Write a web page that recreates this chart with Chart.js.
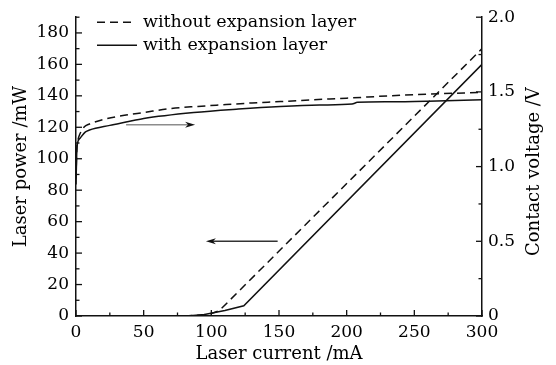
<!DOCTYPE html>
<html>
<head>
<meta charset="utf-8">
<script src="https://cdn.jsdelivr.net/npm/chart.js@4.4.1/dist/chart.umd.min.js"></script>
<style>
  html, body { margin: 0; padding: 0; background: #fff; }
</style>
</head>
<body>
<canvas id="chart" width="556" height="365"></canvas>
<script>
// laser power vs current (left axis)
const powerCurrentWithout = [80, 92, 100, 106, 300];
const powerWithout = [0, 0.5, 1.5, 3.5, 170];
const powerCurrentWith = [82, 95, 110, 124, 300];
const powerWith = [0, 1, 3.5, 6.5, 160];

// contact voltage vs current (right axis)
const voltCurrentWithout = [0, 0.6, 1.5, 2.5, 6, 10, 20, 37, 50, 69, 90, 111, 130, 151, 175, 200, 232, 260, 300];
const voltWithout = [0.92, 1.12, 1.18, 1.21, 1.265, 1.285, 1.315, 1.345, 1.362, 1.388, 1.403, 1.415, 1.426, 1.435, 1.447, 1.458, 1.474, 1.485, 1.497];
const voltCurrentWith = [0, 0.5, 1, 3, 7, 10, 25, 37, 50, 87, 120, 151, 180, 204, 208, 232, 260, 300];
const voltWith = [0.88, 1.08, 1.15, 1.19, 1.232, 1.245, 1.276, 1.298, 1.322, 1.362, 1.385, 1.402, 1.412, 1.419, 1.43, 1.434, 1.438, 1.447];

const seriesLabels = ["without expansion layer", "with expansion layer"];

// arrows pointing to the matching axis: [x0, x1], y
const arrowVoltX = [37, 88];
const arrowVoltY = 1.28;
const arrowPowerX = [149, 96];
const arrowPowerY = 47.5;

// axis ranges
const currentMax = 300, powerMax = 190, voltMax = 2.0;

function pts(xs, ys) {
  return xs.map(function (x, i) { return { x: x, y: ys[i] }; });
}

Chart.defaults.font.family = "'DejaVu Serif', serif";
Chart.defaults.font.size = 17;
Chart.defaults.color = "#000";

const ink = "#111";

// inward tick marks, arrows, legend and right title
const extras = {
  id: "extras",
  afterDraw(chart) {
    const ctx = chart.ctx;
    const area = chart.chartArea;
    ctx.save();
    ctx.strokeStyle = ink;
    ctx.lineWidth = 1.3;
    ["x", "yP", "yV"].forEach(function (id) {
      const s = chart.scales[id];
      s.ticks.forEach(function (t) {
        const p = s.getPixelForValue(t.value);
        const major = t.label !== "";
        const len = major ? 6 : 3.5;
        ctx.beginPath();
        if (id === "x") {
          ctx.moveTo(p, area.bottom);
          ctx.lineTo(p, area.bottom - len);
        } else if (id === "yP") {
          ctx.moveTo(area.left, p);
          ctx.lineTo(area.left + len, p);
        } else {
          ctx.moveTo(area.right, p);
          ctx.lineTo(area.right - len, p);
        }
        ctx.stroke();
      });
    });

    // arrows
    function arrow(x0, x1, y, yScale, lineColor) {
      const sx = chart.scales.x;
      const a = sx.getPixelForValue(x0), b = sx.getPixelForValue(x1);
      const py = chart.scales[yScale].getPixelForValue(y);
      const dir = b > a ? 1 : -1;
      ctx.strokeStyle = lineColor;
      ctx.lineWidth = 1.6;
      ctx.beginPath();
      ctx.moveTo(a, py);
      ctx.lineTo(b - dir * 6, py);
      ctx.stroke();
      ctx.fillStyle = ink;
      ctx.beginPath();
      ctx.moveTo(b, py);
      ctx.lineTo(b - dir * 10, py - 3);
      ctx.lineTo(b - dir * 7, py);
      ctx.lineTo(b - dir * 10, py + 3);
      ctx.closePath();
      ctx.fill();
    }
    arrow(arrowVoltX[0], arrowVoltX[1], arrowVoltY, "yV", "#8c8c8c");
    arrow(arrowPowerX[0], arrowPowerX[1], arrowPowerY, "yP", "#333");

    // legend
    ctx.strokeStyle = ink;
    ctx.lineWidth = 1.5;
    ctx.font = "17.5px 'DejaVu Serif', serif";
    ctx.fillStyle = "#000";
    ctx.textBaseline = "middle";
    const lx = area.left + 21;
    [0, 1].forEach(function (i) {
      const y = area.top + 5 + i * 23;
      ctx.setLineDash(i === 0 ? [8, 5] : []);
      ctx.beginPath();
      ctx.moveTo(lx, y);
      ctx.lineTo(lx + (i === 0 ? 36 : 40), y);
      ctx.stroke();
      ctx.setLineDash([]);
      ctx.fillText(seriesLabels[i], lx + 46, y);
    });

    // right axis title, reading bottom to top
    ctx.translate(chart.scales.yV.right - 22, (area.top + area.bottom) / 2 + 5);
    ctx.rotate(-Math.PI / 2);
    ctx.textAlign = "center";
    ctx.font = "18px 'DejaVu Serif', serif";
    ctx.fillText("Contact voltage /V", 0, 0);
    ctx.restore();
  }
};

const lineStyle = { borderColor: ink, borderWidth: 1.5, pointRadius: 0, fill: false, tension: 0 };

new Chart(document.getElementById("chart"), {
  type: "line",
  data: {
    datasets: [
      Object.assign({ label: seriesLabels[0], data: pts(powerCurrentWithout, powerWithout), yAxisID: "yP", borderDash: [8, 5] }, lineStyle),
      Object.assign({ label: seriesLabels[1], data: pts(powerCurrentWith, powerWith), yAxisID: "yP" }, lineStyle),
      Object.assign({ label: seriesLabels[0], data: pts(voltCurrentWithout, voltWithout), yAxisID: "yV", borderDash: [8, 5], cubicInterpolationMode: "monotone" }, lineStyle),
      Object.assign({ label: seriesLabels[1], data: pts(voltCurrentWith, voltWith), yAxisID: "yV", cubicInterpolationMode: "monotone" }, lineStyle)
    ]
  },
  options: {
    responsive: false,
    animation: false,
    layout: { padding: { top: 14, left: 0, right: 0, bottom: 0 } },
    plugins: { legend: { display: false }, tooltip: { enabled: false } },
    scales: {
      x: {
        type: "linear",
        min: 0,
        max: currentMax,
        afterFit: function (s) { s.height = 49; },
        grid: { display: false, drawTicks: false },
        border: { color: ink, width: 1.5 },
        ticks: {
          stepSize: 25,
          autoSkip: false,
          maxRotation: 0,
          padding: 6,
          callback: function (v) { return v % 50 === 0 ? String(v) : ""; }
        },
        title: { display: true, text: "Laser current /mA", font: { size: 18 }, padding: { top: 0, bottom: 0 } }
      },
      yP: {
        type: "linear",
        position: "left",
        min: 0,
        max: powerMax,
        afterFit: function (s) { s.width = 76; },
        grid: { display: false, drawTicks: false },
        border: { color: ink, width: 1.5 },
        ticks: {
          stepSize: 10,
          autoSkip: false,
          padding: 7,
          callback: function (v) { return v % 20 === 0 ? String(v) : ""; }
        },
        title: { display: true, text: "Laser power /mW", font: { size: 18 }, padding: { top: 11, bottom: 0 } }
      },
      yV: {
        type: "linear",
        position: "right",
        min: 0,
        max: voltMax,
        afterFit: function (s) { s.width = 74; },
        grid: { display: false, drawTicks: false },
        border: { color: ink, width: 1.5 },
        ticks: {
          stepSize: 0.25,
          autoSkip: false,
          padding: 6,
          callback: function (v) {
            if (Math.abs(v * 2 - Math.round(v * 2)) > 1e-6) return "";
            return v === 0 ? "0" : v.toFixed(1);
          }
        }
      }
    }
  },
  plugins: [extras]
});
</script>
</body>
</html>
